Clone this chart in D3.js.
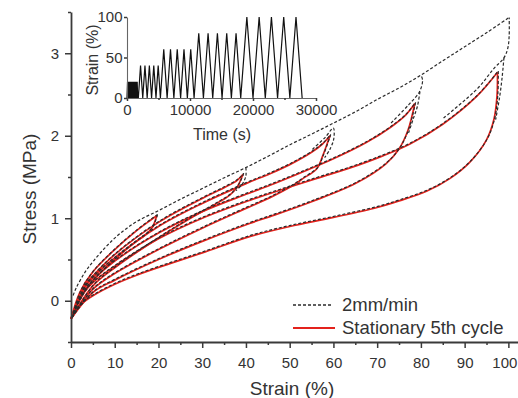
<!DOCTYPE html>
<html>
<head>
<meta charset="utf-8">
<script src="https://cdn.jsdelivr.net/npm/d3@7"></script>
<style>
  body { margin: 0; background: #fff; }
  figure { margin: 0; }
  svg { display: block; font-family: Arial, "Liberation Sans", sans-serif; }
</style>
</head>
<body>
<figure id="stress-strain"></figure>
<script>
// tick labels
const strainTicks = [0, 10, 20, 30, 40, 50, 60, 70, 80, 90, 100];
const strainMinor = [5, 15, 25, 35, 45, 55, 65, 75, 85, 95];
const stressTicks = [0, 1, 2, 3];
const stressMinor = [-0.5, 0.5, 1.5, 2.5, 3.5];
const timeTicks = [0, 10000, 20000, 30000];
const timeMinor = [5000, 15000, 25000];
const insetStrainTicks = [0, 50, 100];

// 2mm/min first loading (virgin envelope), [strain %, stress MPa]
const envelope = [[0.3, 0.05], [1, 0.14], [3, 0.33], [5, 0.47], [8, 0.65], [11, 0.8], [15, 0.95], [19.9, 1.08],
  [25, 1.22], [30, 1.35], [35, 1.48], [39.8, 1.6], [45, 1.74], [50, 1.88], [55, 2.01], [59.5, 2.13],
  [65, 2.28], [70, 2.43], [75, 2.57], [79.8, 2.72], [85, 2.9], [90, 3.07], [95, 3.24], [100, 3.42]];

// stationary 5th cycle, loading and unloading for each max strain
const load20 = [[0, -0.22], [2, 0.1], [5, 0.35], [10, 0.62], [15, 0.85], [18, 0.97], [19.6, 1.03]];
const unload20 = [[19.6, 1.03], [18.5, 0.88], [17, 0.8], [14, 0.68], [10, 0.5], [5, 0.24], [2, 0.02], [0, -0.22]];
const load40 = [[0, -0.22], [3, 0.17], [5, 0.3], [10, 0.56], [20, 0.95], [30, 1.24], [35, 1.37], [38, 1.46], [39.3, 1.53]];
const unload40 = [[39.3, 1.53], [38, 1.38], [36.3, 1.28], [33, 1.17], [28, 1.02], [20, 0.76], [10, 0.4], [5, 0.18], [0, -0.22]];
const load60 = [[0, -0.22], [3, 0.15], [5, 0.28], [10, 0.52], [20, 0.9], [30, 1.18], [40, 1.42], [45.5, 1.54], [50, 1.65], [55, 1.8], [57.5, 1.9], [59.2, 2.0]];
const unload60 = [[59.2, 2.0], [57.5, 1.75], [56.2, 1.6], [53, 1.48], [50.8, 1.4], [45.5, 1.25], [40, 1.12], [30, 0.88], [20, 0.62], [10, 0.33], [5, 0.14], [0, -0.22]];
const load80 = [[0, -0.22], [3, 0.12], [5, 0.25], [10, 0.48], [20, 0.82], [30, 1.08], [40, 1.29], [45.5, 1.4], [52, 1.54], [60, 1.72], [67.6, 1.92], [73, 2.1], [76.5, 2.25], [78.6, 2.39]];
const unload80 = [[78.6, 2.39], [77, 2.06], [75, 1.84], [72, 1.66], [65, 1.42], [55, 1.2], [45.5, 1.02], [41, 0.94], [30, 0.72], [20, 0.5], [10, 0.25], [5, 0.1], [0, -0.22]];
const load100 = [[0, -0.22], [3, 0.1], [5, 0.22], [10, 0.42], [20, 0.75], [30, 1.0], [41, 1.22], [45.5, 1.3], [56, 1.48], [63.8, 1.61], [71, 1.75], [77.5, 1.9], [85, 2.14], [92.8, 2.48], [97.5, 2.77]];
const unload100 = [[97.5, 2.77], [97.4, 2.48], [96.7, 2.2], [95, 1.95], [91.2, 1.68], [86.6, 1.48], [81.4, 1.33], [75, 1.21], [70, 1.13], [60, 1.01], [50, 0.9], [41, 0.78], [30, 0.58], [22.6, 0.45], [15, 0.31], [10, 0.2], [5, 0.06], [2, -0.06], [0, -0.22]];

// 2mm/min cycles near the tips (first unloading drop, higher earlier peaks)
const tip40 = [[39.8, 1.6], [39.8, 1.5], [39, 1.4], [37.5, 1.32]];
const tip60 = [[55, 1.82], [58, 1.97], [59.8, 2.08], [59.9, 1.95], [59, 1.82], [57.8, 1.72]];
const tip80 = [[73, 2.14], [77, 2.36], [79.5, 2.52], [80.2, 2.66], [79.8, 2.72]];
const tip80b = [[79.6, 2.52], [79, 2.34], [78, 2.18], [77, 2.02]];
const tip100 = [[85, 2.2], [92.8, 2.56], [96.5, 2.8], [98.8, 2.93], [99.7, 3.05], [100, 3.2], [100, 3.42]];
const tip100b = [[98.8, 2.93], [98.4, 2.7], [97.8, 2.45], [96.9, 2.18]];

// inset: strain programme, vertices of the triangle waves
const insetTime = [0, 85, 170, 255, 340, 425, 510, 595, 680, 765, 850, 935, 1020, 1105, 1190, 1275, 1360, 1445, 1530, 1615, 1700,
  1800, 2150, 2500, 2850, 3200, 3550, 3900, 4250, 4600, 4950, 5300,
  5835, 6370, 6905, 7440, 7975, 8510, 9045, 9580, 10115, 10650,
  11390, 12130, 12870, 13610, 14350, 15090, 15830, 16570, 17310, 18050,
  19025, 20000, 20975, 21950, 22925, 23900, 24875, 25850, 26825, 27800];
const insetStrain = [0, 20, 0, 20, 0, 20, 0, 20, 0, 20, 0, 20, 0, 20, 0, 20, 0, 20, 0, 20, 0,
  0, 40, 0, 40, 0, 40, 0, 40, 0, 40, 0,
  60, 0, 60, 0, 60, 0, 60, 0, 60, 0,
  80, 0, 80, 0, 80, 0, 80, 0, 80, 0,
  100, 0, 100, 0, 100, 0, 100, 0, 100, 0];

const redCurves = [load20, unload20, load40, unload40, load60, unload60, load80, unload80, load100, unload100];
const dashedCurves = [envelope, tip40, tip60, tip80, tip80b, tip100, tip100b].concat(redCurves);

const width = 518, height = 398;
const svg = d3.select("figure#stress-strain")
  .append("svg")
  .attr("width", width)
  .attr("height", height);

const x = d3.scaleLinear().domain([0, 102.2]).range([71, 518]);
const y = d3.scaleLinear().domain([-0.5, 3.5]).range([342, 12]);

const line = d3.line()
  .x(d => x(d[0]))
  .y(d => y(d[1]))
  .curve(d3.curveCatmullRom.alpha(0.5));

// red 5th cycle
svg.append("g").selectAll("path")
  .data(redCurves)
  .enter()
  .append("path")
  .attr("d", line)
  .attr("fill", "none")
  .attr("stroke", "#e3221c")
  .attr("stroke-width", 1.7);

// black dashed 2mm/min, nudged so red shows under it
svg.append("g")
  .attr("transform", "translate(0.8,-1.2)")
  .selectAll("path")
  .data(dashedCurves)
  .enter()
  .append("path")
  .attr("d", line)
  .attr("fill", "none")
  .attr("stroke", "#2a2a2a")
  .attr("stroke-width", 1.2)
  .attr("stroke-dasharray", "3,2");

function styleAxis(g, size) {
  g.selectAll("path").attr("stroke", "#3a3a3a").attr("stroke-width", 1.8);
  g.selectAll("line").attr("stroke", "#3a3a3a").attr("stroke-width", 1.5);
  g.selectAll("text").style("font-size", size + "px").attr("fill", "#333");
}

// main X axis
const xaxis = svg.append("g")
  .attr("transform", "translate(0," + y(-0.5) + ")")
  .call(d3.axisBottom(x).tickValues(strainTicks).tickFormat(d3.format("d"))
    .tickSize(6).tickSizeOuter(0).tickPadding(9));
styleAxis(xaxis, 15);
// last label sits at the page edge, keep it inside
xaxis.selectAll(".tick text").filter(d => d === 100).attr("dx", -4);
const xminor = svg.append("g")
  .attr("transform", "translate(0," + y(-0.5) + ")")
  .call(d3.axisBottom(x).tickValues(strainMinor).tickSize(3).tickFormat(""));
styleAxis(xminor, 15);
xminor.select("path").remove();

// main Y axis
const yaxis = svg.append("g")
  .attr("transform", "translate(" + x(0) + ",0)")
  .call(d3.axisLeft(y).tickValues(stressTicks).tickFormat(d3.format("d"))
    .tickSize(6).tickSizeOuter(0).tickPadding(6));
styleAxis(yaxis, 15);
const yminor = svg.append("g")
  .attr("transform", "translate(" + x(0) + ",0)")
  .call(d3.axisLeft(y).tickValues(stressMinor).tickSize(3).tickFormat(""));
styleAxis(yminor, 15);
yminor.select("path").remove();

// axis titles
svg.append("text")
  .attr("text-anchor", "middle")
  .attr("x", 292)
  .attr("y", 395)
  .style("font-size", "19px")
  .attr("fill", "#333")
  .text("Strain (%)");

svg.append("text")
  .attr("text-anchor", "middle")
  .attr("transform", "translate(29,189)rotate(-90)")
  .attr("dy", "0.35em")
  .style("font-size", "19px")
  .attr("fill", "#333")
  .text("Stress (MPa)");

// legend
const legend = svg.append("g");
legend.append("line")
  .attr("x1", 293).attr("x2", 331).attr("y1", 305).attr("y2", 305)
  .attr("stroke", "#2a2a2a").attr("stroke-width", 1.4).attr("stroke-dasharray", "3,2");
legend.append("text")
  .attr("x", 342).attr("y", 305).attr("dy", "0.35em")
  .style("font-size", "18.5px").attr("fill", "#333")
  .text("2mm/min");
legend.append("line")
  .attr("x1", 293).attr("x2", 335).attr("y1", 328).attr("y2", 328)
  .attr("stroke", "#e3221c").attr("stroke-width", 1.8);
legend.append("text")
  .attr("x", 342).attr("y", 328).attr("dy", "0.35em")
  .style("font-size", "18.5px").attr("fill", "#333")
  .text("Stationary 5th cycle");

// inset
const ix = d3.scaleLinear().domain([0, 30000]).range([127, 316]);
const iy = d3.scaleLinear().domain([0, 100]).range([98, 17]);
const inset = svg.append("g");

inset.append("path")
  .datum(insetTime.map((t, i) => [t, insetStrain[i]]))
  .attr("d", d3.line().x(d => ix(d[0])).y(d => iy(d[1])))
  .attr("fill", "none")
  .attr("stroke", "#111")
  .attr("stroke-width", 1.2);

const ixaxis = inset.append("g")
  .attr("transform", "translate(0," + iy(0) + ")")
  .call(d3.axisBottom(ix).tickValues(timeTicks).tickFormat(d3.format("d"))
    .tickSize(3).tickSizeOuter(0).tickPadding(3.5));
styleAxis(ixaxis, 15);
const ixminor = inset.append("g")
  .attr("transform", "translate(0," + iy(0) + ")")
  .call(d3.axisBottom(ix).tickValues(timeMinor).tickSize(2).tickFormat(""));
styleAxis(ixminor, 15);
ixminor.select("path").remove();
const iyaxis = inset.append("g")
  .attr("transform", "translate(" + ix(0) + ",0)")
  .call(d3.axisLeft(iy).tickValues(insetStrainTicks).tickFormat(d3.format("d"))
    .tickSize(3).tickSizeOuter(0).tickPadding(1.5));
styleAxis(iyaxis, 15);
inset.selectAll("path.domain").attr("stroke-width", 1.1).attr("stroke", "#666");

inset.append("text")
  .attr("text-anchor", "middle")
  .attr("x", 222)
  .attr("y", 140)
  .style("font-size", "16px")
  .attr("fill", "#333")
  .text("Time (s)");

inset.append("text")
  .attr("text-anchor", "middle")
  .attr("transform", "translate(92,60)rotate(-90)")
  .attr("dy", "0.35em")
  .style("font-size", "16px")
  .attr("fill", "#333")
  .text("Strain (%)");
</script>
</body>
</html>
